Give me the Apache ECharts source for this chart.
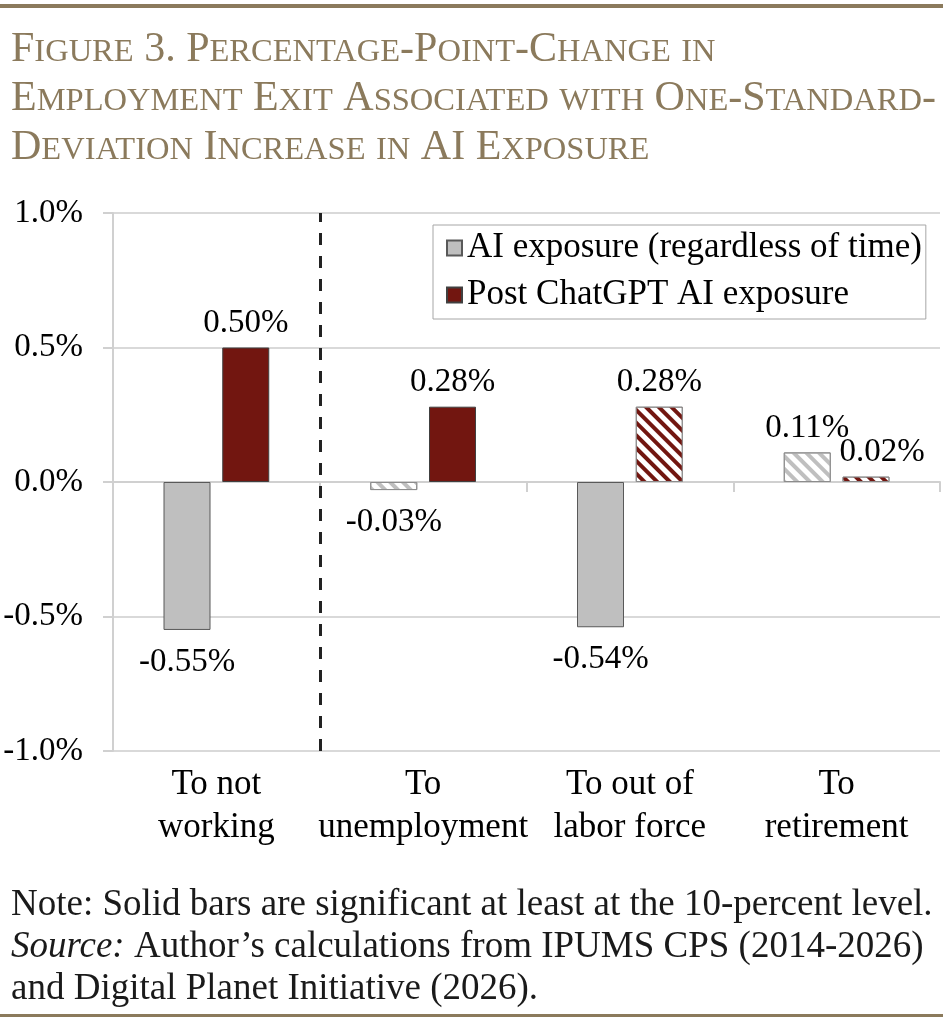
<!DOCTYPE html>
<html>
<head>
<meta charset="utf-8">
<script src="https://cdn.jsdelivr.net/npm/echarts@6/dist/echarts.min.js"></script>
<style>
  html, body { margin: 0; padding: 0; background: #fff; }
  #chart { width: 943px; height: 1024px; }
</style>
</head>
<body>
<div id="chart"></div>
<script>
// data
const categories = ['To not\nworking', 'To\nunemployment', 'To out of\nlabor force', 'To\nretirement']
const seriesNames = ['AI exposure (regardless of time)', 'Post ChatGPT AI exposure']
const aiExposure = [-0.55, -0.03, -0.54, 0.11]
const postChatGPT = [0.50, 0.28, 0.28, 0.02]
// solid = significant at 10% level, otherwise hatched
const aiSolid = [true, false, true, false]
const postSolid = [true, true, false, false]
const yTicks = [-1.0, -0.5, 0.0, 0.5, 1.0]

const titleText = 'Figure 3. Percentage-Point-Change in\nEmployment Exit Associated with One-Standard-\nDeviation Increase in AI Exposure'

const GRAY = '#bfbfbf'
const RED = '#721610'
const TAN = '#8b7a5c'
const SERIF = '"Liberation Serif", "Times New Roman", serif'

// fake small caps with rich text runs
const smallCaps = (str) => {
  return str.split('\n').map(line => {
    let out = ''
    let run = ''
    let small = null
    const flush = () => {
      if (!run) return
      out += small ? `{s|${run.toUpperCase()}}` : `{b|${run}}`
      run = ''
    }
    for (const ch of line) {
      const isSmall = /[a-z]/.test(ch)
      if (small !== null && isSmall !== small) flush()
      small = isSmall
      run += ch
    }
    flush()
    return out
  }).join('\n')
}

const buildData = (values, solid, stripe, border) => values.map((v, i) => {
  const item = {
    value: v,
    label: { position: v < 0 ? 'bottom' : 'top', distance: v < 0 ? 16 : 8 }
  }
  if (!solid[i]) {
    item.itemStyle = {
      color: '#ffffff',
      borderColor: border,
      borderWidth: 1,
      decal: {
        symbol: 'rect',
        symbolSize: 1,
        dashArrayX: [1, 0],
        dashArrayY: [4, 5],
        rotation: Math.PI / 4,
        color: stripe
      }
    }
  }
  return item
})

const labelStyle = {
  show: true,
  fontFamily: SERIF,
  fontSize: 33,
  color: '#000',
  formatter: (p) => p.value.toFixed(2) + '%'
}

const chart = echarts.init(document.getElementById('chart'), null, { renderer: 'canvas' })

const aiData = buildData(aiExposure, aiSolid, GRAY, '#8c8c8c')
const postData = buildData(postChatGPT, postSolid, RED, '#8c8c8c')
// nudge the tiny retirement label a bit right like the original
postData[3].label.offset = [16, 0]

const option = {
  animation: false,
  backgroundColor: '#fff',
  title: [
    {
      text: smallCaps(titleText),
      left: 6,
      top: 17,
      textStyle: {
        color: TAN,
        fontWeight: 'normal',
        rich: {
          b: { fontFamily: SERIF, fontSize: 42, fontWeight: 'normal', color: TAN, lineHeight: 49, verticalAlign: 'bottom' },
          s: { fontFamily: SERIF, fontSize: 32.5, fontWeight: 'normal', color: TAN, lineHeight: 49, verticalAlign: 'bottom', padding: [0, 0, 2, 0] }
        }
      }
    },
    {
      text: '{n|Note: Solid bars are significant at least at the 10-percent level.}\n{i|Source:}{n| Author\u2019s calculations from IPUMS CPS (2014-2026)}\n{n|and Digital Planet Initiative (2026).}',
      left: 6,
      top: 879,
      textStyle: {
        fontWeight: 'normal',
        rich: {
          n: { fontFamily: SERIF, fontSize: 37, fontWeight: 'normal', color: '#1a1a1a', lineHeight: 42 },
          i: { fontFamily: SERIF, fontSize: 37, fontWeight: 'normal', fontStyle: 'italic', color: '#1a1a1a', lineHeight: 42 }
        }
      }
    }
  ],
  graphic: [
    { type: 'rect', shape: { x: 0, y: 4, width: 943, height: 4 }, style: { fill: TAN } },
    { type: 'rect', shape: { x: 0, y: 1014, width: 943, height: 3 }, style: { fill: TAN } }
  ],
  legend: {
    data: seriesNames,
    orient: 'vertical',
    left: 433,
    top: 225,
    backgroundColor: '#fff',
    borderColor: '#a6a6a6',
    borderWidth: 1,
    padding: [5, 4, 6, 13],
    itemWidth: 15,
    itemHeight: 15,
    itemGap: 11,
    itemTextGap: 8,
    icon: 'rect',
    textStyle: { fontFamily: SERIF, fontSize: 35, color: '#000', lineHeight: 36 }
  },
  grid: { left: 113, right: 3, top: 213, bottom: 273 },
  xAxis: [
    {
      type: 'category',
      data: categories,
      axisLine: { onZero: true, lineStyle: { color: '#d0d0d0', width: 2 } },
      axisTick: { show: true, length: 10, lineStyle: { color: '#d0d0d0', width: 2 } },
      axisLabel: { show: false },
      splitLine: { show: false }
    },
    {
      type: 'category',
      data: categories,
      position: 'bottom',
      axisLine: { show: false, onZero: false },
      axisTick: { show: false },
      axisLabel: { interval: 0, fontFamily: SERIF, fontSize: 35, color: '#000', lineHeight: 43, margin: 12 }
    },
    { type: 'value', min: 0, max: 4, show: false }
  ],
  yAxis: {
    type: 'value',
    min: yTicks[0],
    max: yTicks[yTicks.length - 1],
    interval: 0.5,
    axisLine: { show: true, lineStyle: { color: '#d0d0d0', width: 2 } },
    axisTick: { show: true, length: 10, lineStyle: { color: '#d0d0d0', width: 2 } },
    axisLabel: {
      fontFamily: SERIF,
      fontSize: 33,
      color: '#000',
      margin: 30,
      formatter: (v) => v.toFixed(1) + '%'
    },
    splitLine: { lineStyle: { color: '#d9d9d9', width: 2 } }
  },
  series: [
    {
      name: seriesNames[0],
      type: 'bar',
      xAxisIndex: 0,
      barWidth: 47,
      barGap: '25%',
      itemStyle: { color: GRAY, borderColor: '#595959', borderWidth: 1 },
      label: labelStyle,
      data: aiData
    },
    {
      name: seriesNames[1],
      type: 'bar',
      xAxisIndex: 0,
      barWidth: 47,
      barGap: '25%',
      itemStyle: { color: RED, borderColor: '#404040', borderWidth: 1 },
      label: labelStyle,
      data: postData
    },
    {
      // dashed divider between "not working" and its components
      name: 'divider',
      type: 'line',
      xAxisIndex: 2,
      data: [],
      markLine: {
        silent: true,
        symbol: 'none',
        label: { show: false },
        lineStyle: { color: '#222', width: 3, type: [12, 11] },
        data: [{ xAxis: 1 }]
      }
    }
  ]
}

chart.setOption(option)
</script>
</body>
</html>
